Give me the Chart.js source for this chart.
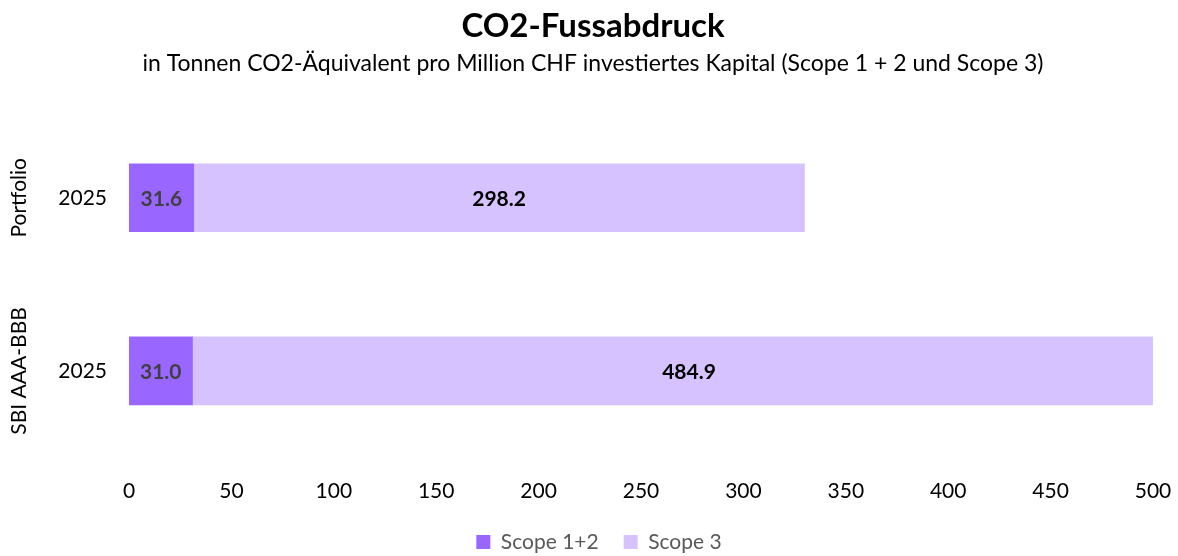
<!DOCTYPE html>
<html>
<head>
<meta charset="utf-8">
<script src="https://cdn.jsdelivr.net/npm/chart.js@4/dist/chart.umd.min.js"></script>
<style>
  html, body { margin: 0; padding: 0; background: #fff; }
  #wrap { width: 1178px; height: 556px; }
</style>
</head>
<body>
<div id="wrap"><canvas id="chart"></canvas></div>
<script>
/* ============================
   DATA
============================ */
const groups = ['Portfolio', 'SBI AAA-BBB'];
const years = ['2025', '2025'];
const scope12 = [31.6, 31.0];
const scope3 = [298.2, 484.9];
const xTicks = [0, 50, 100, 150, 200, 250, 300, 350, 400, 450, 500];

const FONT = 'Lato, "Open Sans", sans-serif';

/* ============================
   PLUGINS
============================ */
// value labels centred in each bar segment
const barLabels = {
    id: 'barLabels',
    afterDatasetsDraw(chart) {
        const { ctx } = chart;
        ctx.save();
        ctx.font = 'bold 21px ' + FONT;
        ctx.textAlign = 'center';
        ctx.textBaseline = 'middle';
        chart.data.datasets.forEach((ds, i) => {
            chart.getDatasetMeta(i).data.forEach((bar, j) => {
                ctx.fillStyle = ds.labelColor;
                ctx.fillText(ds.data[j].toFixed(1), (bar.x + bar.base) / 2, bar.y + 1);
            });
        });
        ctx.restore();
    }
};

// rotated group names left of the year ticks
const groupLabels = {
    id: 'groupLabels',
    afterDraw(chart) {
        const { ctx } = chart;
        const y = chart.scales.y;
        ctx.save();
        ctx.font = '21px ' + FONT;
        ctx.fillStyle = '#000';
        ctx.textAlign = 'center';
        ctx.textBaseline = 'middle';
        groups.forEach((g, i) => {
            ctx.save();
            ctx.translate(19, y.getPixelForValue(i));
            ctx.rotate(-Math.PI / 2);
            ctx.fillText(g, 0, 0);
            ctx.restore();
        });
        ctx.restore();
    }
};

// nudge the legend a bit to the right
const legendShift = {
    id: 'legendShift',
    afterLayout(chart) {
        chart.legend.left += 6;
        chart.legend.right += 6;
    }
};

/* ============================
   CHART
============================ */
new Chart(document.getElementById('chart'), {
    type: 'bar',
    data: {
        labels: years,
        datasets: [
            { label: 'Scope 1+2', data: scope12, backgroundColor: '#9966FF', labelColor: '#404040', barThickness: 68 },
            { label: 'Scope 3', data: scope3, backgroundColor: '#D5C2FF', labelColor: '#000000', barThickness: 68 }
        ]
    },
    options: {
        indexAxis: 'y',
        responsive: true,
        maintainAspectRatio: false,
        animation: false,
        layout: { padding: { left: 33, right: 25, top: 0, bottom: -6.5 } },
        scales: {
            x: {
                stacked: true,
                min: 0,
                max: 500,
                afterBuildTicks: scale => { scale.ticks = xTicks.map(v => ({ value: v })); },
                afterFit: scale => {
                    scale.height = 49;
                    scale.paddingRight = 0;
                },
                grid: { display: false, drawTicks: false },
                border: { display: false },
                ticks: { color: '#000', font: { family: FONT, size: 21 }, padding: 21 }
            },
            y: {
                stacked: true,
                grid: { display: false, drawTicks: false },
                border: { display: false },
                afterFit: scale => { scale.width = 96; },
                ticks: { color: '#000', font: { family: FONT, size: 21 }, padding: 22 }
            }
        },
        plugins: {
            title: {
                display: true,
                text: 'CO2-Fussabdruck',
                color: '#000',
                font: { family: FONT, size: 33, weight: 'bold' },
                padding: { top: 7, bottom: 3 }
            },
            subtitle: {
                display: true,
                text: 'in Tonnen CO2-Äquivalent pro Million CHF investiertes Kapital (Scope 1 + 2 und Scope 3)',
                color: '#000',
                font: { family: FONT, size: 23 },
                padding: { bottom: 34 }
            },
            legend: {
                position: 'bottom',
                labels: {
                    color: '#595959',
                    font: { family: FONT, size: 21 },
                    boxWidth: 14,
                    boxHeight: 14,
                    padding: 25
                }
            },
            tooltip: { enabled: false }
        }
    },
    plugins: [barLabels, groupLabels, legendShift]
});
</script>
</body>
</html>
